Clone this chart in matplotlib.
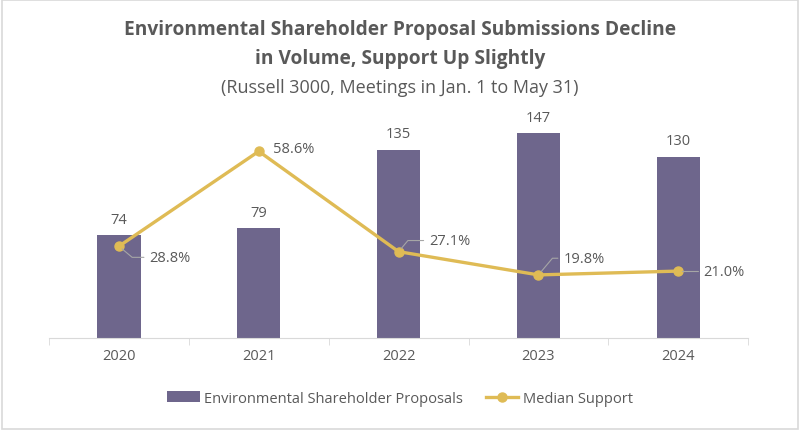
import matplotlib.pyplot as plt
from matplotlib.patches import Rectangle

plt.rcParams['font.family'] = ['Open Sans', 'DejaVu Sans']

years = ["2020", "2021", "2022", "2023", "2024"]
proposals = [74, 79, 135, 147, 130]
support = [0.288, 0.586, 0.271, 0.198, 0.210]
support_labels = ["28.8%", "58.6%", "27.1%", "19.8%", "21.0%"]

BAR = "#6E668C"
GOLD = "#DFBB55"
TXT = "#595959"
GRID = "#D9D9D9"

fig = plt.figure(figsize=(8.0, 4.31), dpi=100)
fig.patches.append(Rectangle((0.002, 0.003), 0.996, 0.994, transform=fig.transFigure,
                             fill=False, edgecolor=GRID, lw=1.2))
ax = fig.add_axes([0.06125, 0.2135, 0.874, 0.5174])
ax2 = ax.twinx()

x = list(range(len(years)))
bars = ax.bar(x, proposals, width=0.31, color=BAR, zorder=2,
              label="Environmental Shareholder Proposals")
ax.set_ylim(0, 160)
ax.set_xlim(-0.5, len(years) - 0.5)
for xi, v in zip(x, proposals):
    ax.annotate(str(v), (xi, v), xytext=(0, 6), textcoords="offset points",
                ha="center", va="bottom", fontsize=10.5, color=TXT)

line, = ax2.plot(x, support, color=GOLD, lw=2.4, marker="o", ms=6.5,
                 label="Median Support", zorder=3)
ax2.set_ylim(0, 0.70)

# label offsets (points) and leader styles
offsets = [(22, -8), (10, 2), (22, 8), (18, 12), (18, 0)]
leaders = [True, False, True, True, True]
for xi, v, lab, off, ld in zip(x, support, support_labels, offsets, leaders):
    kw = {}
    if ld:
        kw["arrowprops"] = dict(arrowstyle="-", color="#A6A6A6", lw=0.8,
                                shrinkA=2, shrinkB=3,
                                connectionstyle="angle,angleA=0,angleB=%d,rad=0"
                                % (90 if off[1] == 0 else (-40 if off[1] < 0 else 50)))
    ax2.annotate(lab, (xi, v), xytext=off, textcoords="offset points",
                 ha="left", va="center", fontsize=10.5, color=TXT, **kw)

for a in (ax, ax2):
    for s in ("top", "right", "left"):
        a.spines[s].set_visible(False)
    a.set_yticks([])
ax2.spines["bottom"].set_visible(False)
ax.spines["bottom"].set_color(GRID)
ax.set_xticks(x)
ax.set_xticklabels(years, fontsize=10.5, color=TXT)
ax.tick_params(axis="x", which="major", length=0, pad=7)
ax.set_xticks([i - 0.5 for i in range(len(years) + 1)], minor=True)
ax.tick_params(axis="x", which="minor", length=5, color=GRID)

fig.text(0.5, 0.93, "Environmental Shareholder Proposal Submissions Decline",
         ha="center", va="center", fontsize=13.8, fontweight="bold", color=TXT)
fig.text(0.5, 0.862, "in Volume, Support Up Slightly",
         ha="center", va="center", fontsize=13.8, fontweight="bold", color=TXT)
fig.text(0.5, 0.795, "(Russell 3000, Meetings in Jan. 1 to May 31)",
         ha="center", va="center", fontsize=13, color=TXT)

fig.legend(handles=[bars, line], loc="center", bbox_to_anchor=(0.5, 0.074),
           ncol=2, frameon=False, fontsize=10.5, labelcolor=TXT,
           handlelength=2.2, columnspacing=1.6, handletextpad=0.3)

fig.savefig("out.png", dpi=100)
